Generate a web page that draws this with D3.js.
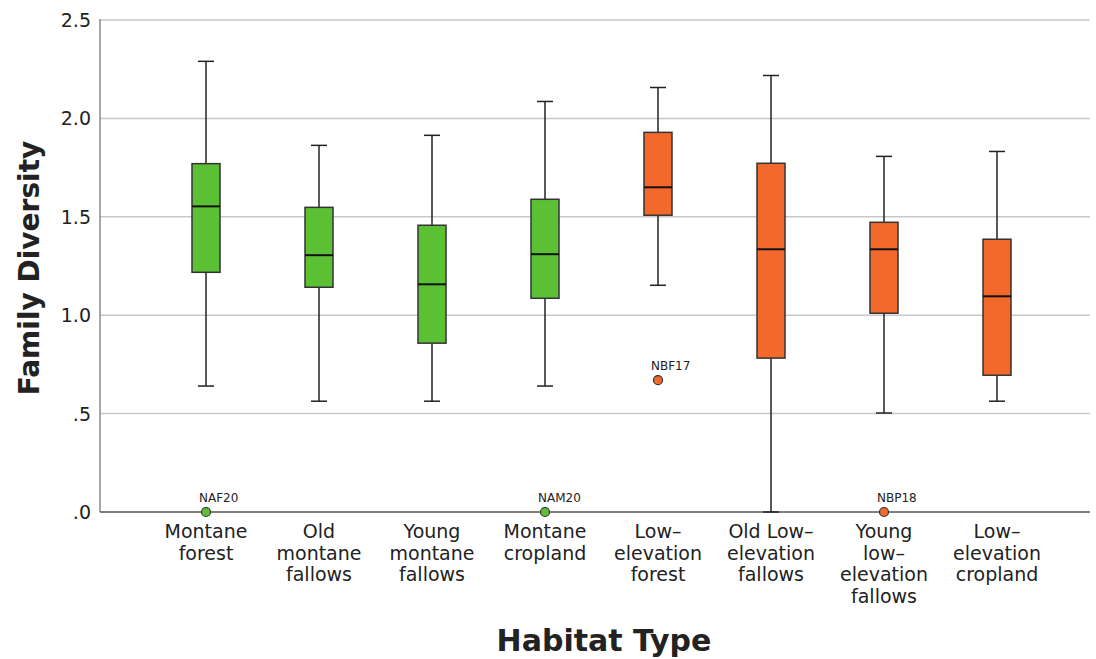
<!DOCTYPE html>
<html>
<head>
<meta charset="utf-8">
<script src="https://cdn.jsdelivr.net/npm/d3@7"></script>
<style>
  body { margin: 0; background: #fff; }
  text { font-family: "DejaVu Sans", sans-serif; fill: #222; }
</style>
</head>
<body>
<svg id="chart" width="1096" height="659"></svg>
<script>
// Habitat categories and their box-plot summary values
const habitats = ["Montane forest", "Old montane fallows", "Young montane fallows", "Montane cropland",
    "Low-elevation forest", "Old Low-elevation fallows", "Young low-elevation fallows", "Low-elevation cropland"];
const labelLines = [["Montane", "forest"], ["Old", "montane", "fallows"], ["Young", "montane", "fallows"],
    ["Montane", "cropland"], ["Low–", "elevation", "forest"], ["Old Low–", "elevation", "fallows"],
    ["Young", "low–", "elevation", "fallows"], ["Low–", "elevation", "cropland"]];
const zone = ["montane", "montane", "montane", "montane", "low", "low", "low", "low"];
const whiskerLow = [0.64, 0.563, 0.563, 0.64, 1.152, 0.0, 0.503, 0.563];
const q1 = [1.218, 1.142, 0.858, 1.086, 1.508, 0.782, 1.01, 0.695];
const median = [1.553, 1.305, 1.157, 1.31, 1.65, 1.335, 1.335, 1.096];
const q3 = [1.77, 1.548, 1.457, 1.589, 1.929, 1.772, 1.472, 1.386];
const whiskerHigh = [2.29, 1.863, 1.914, 2.086, 2.157, 2.218, 1.807, 1.832];
const outliers = [
    { habitat: "Montane forest", value: 0.0, label: "NAF20" },
    { habitat: "Montane cropland", value: 0.0, label: "NAM20" },
    { habitat: "Low-elevation forest", value: 0.67, label: "NBF17" },
    { habitat: "Young low-elevation fallows", value: 0.0, label: "NBP18" }
];
const yTicks = [0, 0.5, 1.0, 1.5, 2.0, 2.5];
const yTickLabels = [".0", ".5", "1.0", "1.5", "2.0", "2.5"];

const colors = { montane: "#5cc034", low: "#f2692b" };

let svg = d3.select("#chart");
let plotLeft = 100, plotRight = 1090, plotTop = 20, plotBottom = 512;

let x = d3.scaleBand().domain(habitats).range([149.5, 1053.5]);
let y = d3.scaleLinear().domain([0, 2.5]).range([plotBottom, plotTop]);

let boxW = 28, capW = 16;

// grid lines
svg.append("g").selectAll("line").data(yTicks.filter(d => d > 0)).enter().append("line")
    .attr("x1", plotLeft).attr("x2", plotRight)
    .attr("y1", d => y(d)).attr("y2", d => y(d))
    .attr("stroke", "#c8c8c8").attr("stroke-width", 1.5);

// axes lines
svg.append("line").attr("x1", plotLeft).attr("x2", plotLeft).attr("y1", plotTop - 1).attr("y2", plotBottom)
    .attr("stroke", "#8a8a8a").attr("stroke-width", 1.5);
svg.append("line").attr("x1", plotLeft).attr("x2", plotRight).attr("y1", plotBottom).attr("y2", plotBottom)
    .attr("stroke", "#555").attr("stroke-width", 1.5);

// y tick labels
svg.append("g").selectAll("text").data(yTicks).enter().append("text")
    .attr("x", 91).attr("y", d => y(d) + 7)
    .attr("text-anchor", "end").style("font-size", "19px")
    .text((d, i) => yTickLabels[i]);

// boxes
let boxes = svg.append("g").selectAll("g").data(habitats).enter().append("g")
    .attr("transform", d => "translate(" + (x(d) + x.bandwidth() / 2) + ",0)");

boxes.append("line")
    .attr("x1", 0).attr("x2", 0)
    .attr("y1", (d, i) => y(whiskerHigh[i])).attr("y2", (d, i) => y(whiskerLow[i]))
    .attr("stroke", "#222").attr("stroke-width", 1.5);
boxes.append("line")
    .attr("x1", -capW / 2).attr("x2", capW / 2)
    .attr("y1", (d, i) => y(whiskerHigh[i])).attr("y2", (d, i) => y(whiskerHigh[i]))
    .attr("stroke", "#222").attr("stroke-width", 1.5);
boxes.append("line")
    .attr("x1", -capW / 2).attr("x2", capW / 2)
    .attr("y1", (d, i) => y(whiskerLow[i])).attr("y2", (d, i) => y(whiskerLow[i]))
    .attr("stroke", "#222").attr("stroke-width", 1.5);
boxes.append("rect")
    .attr("x", -boxW / 2).attr("width", boxW)
    .attr("y", (d, i) => y(q3[i])).attr("height", (d, i) => y(q1[i]) - y(q3[i]))
    .attr("fill", (d, i) => colors[zone[i]])
    .attr("stroke", "#333").attr("stroke-width", 1.5);
boxes.append("line")
    .attr("x1", -boxW / 2).attr("x2", boxW / 2)
    .attr("y1", (d, i) => y(median[i])).attr("y2", (d, i) => y(median[i]))
    .attr("stroke", "#111").attr("stroke-width", 2);

// outliers
let outG = svg.append("g").selectAll("g").data(outliers).enter().append("g")
    .attr("transform", d => "translate(" + (x(d.habitat) + x.bandwidth() / 2) + "," + y(d.value) + ")");
outG.append("circle").attr("r", 4.5)
    .attr("fill", d => colors[zone[habitats.indexOf(d.habitat)]])
    .attr("stroke", "#333").attr("stroke-width", 1.2);
outG.append("text").attr("x", -7).attr("y", -10)
    .style("font-size", "12px").text(d => d.label);

// x category labels
let xl = svg.append("g").selectAll("text").data(habitats).enter().append("text")
    .attr("x", d => x(d) + x.bandwidth() / 2)
    .attr("y", 538)
    .attr("text-anchor", "middle").style("font-size", "19px");
xl.selectAll("tspan").data((d, i) => labelLines[i]).enter().append("tspan")
    .attr("x", function () { return d3.select(this.parentNode).attr("x"); })
    .attr("dy", (d, i) => i === 0 ? 0 : 21.5)
    .text(d => d);

// axis titles
svg.append("text")
    .attr("transform", "translate(39," + ((plotTop + plotBottom) / 2 + 2) + ") rotate(-90)")
    .attr("text-anchor", "middle")
    .style("font-size", "28px").style("font-weight", "bold")
    .text("Family Diversity");
svg.append("text")
    .attr("x", 604).attr("y", 651)
    .attr("text-anchor", "middle")
    .style("font-size", "30px").style("font-weight", "bold")
    .text("Habitat Type");
</script>
</body>
</html>
